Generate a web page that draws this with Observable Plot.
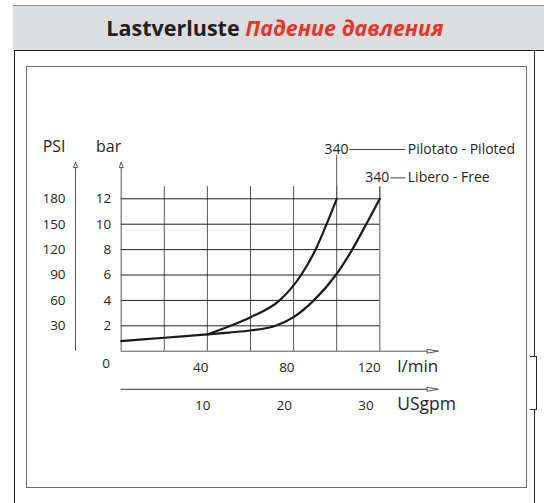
<!DOCTYPE html>
<html>
<head>
<meta charset="utf-8">
<script src="https://cdn.jsdelivr.net/npm/d3@7"></script>
<script src="https://cdn.jsdelivr.net/npm/@observablehq/plot@0.6"></script>
<style>
  html, body { margin: 0; padding: 0; background: #fff; }
  #page { position: relative; width: 544px; height: 503px; overflow: hidden; font-family: "Open Sans", sans-serif; }
  #band { position: absolute; left: 13px; top: 5px; width: 531px; height: 45px; background: #dcdddf; border-top: 1px solid #8e8e8e; }
  #title { position: absolute; left: 0; top: 13px; width: 550px; text-align: center; font-size: 21.5px; font-weight: 700; line-height: normal; color: #231f20; white-space: nowrap; }
  #title .ru { color: #e3352b; font-style: italic; }
  #chart { position: absolute; left: 0; top: 51px; width: 544px; height: 452px; }
  #outer { position: absolute; left: 14px; top: 50px; width: 530px; height: 470px; border-left: 1px solid #1e1e1e; border-top: 1px solid #1e1e1e; pointer-events: none; }
  #inner { position: absolute; left: 26px; top: 66px; width: 499px; height: 420px; border: 1px solid #6d6d6d; pointer-events: none; }
  .seg { position: absolute; background: #2a2a2a; pointer-events: none; }
</style>
</head>
<body>
<div id="page">
  <div id="band"></div>
  <div id="title">Lastverluste <span class="ru">Падение давления</span></div>
  <div id="chart"></div>
  <div id="outer"></div>
  <div id="inner"></div>
  <div class="seg" style="left:534px;top:50px;width:1px;height:306px"></div>
  <div class="seg" style="left:530px;top:356px;width:7px;height:1px"></div>
  <div class="seg" style="left:536px;top:356px;width:1px;height:54px"></div>
  <div class="seg" style="left:530px;top:409px;width:7px;height:1px"></div>
  <div class="seg" style="left:534px;top:409px;width:1px;height:94px"></div>
</div>
<script>
// ---------- data ----------
const flowTicks = [40, 80, 120];            // l/min labels
const flowGrid = [20, 40, 60, 80, 100, 120]; // l/min grid
const barTicks = [2, 4, 6, 8, 10, 12];       // bar
const psiTicks = [30, 60, 90, 120, 150, 180];
const usgpmTicks = [10, 20, 30];
const LPM_PER_USGPM = 3.785;

// Pilotato - Piloted (l/min, bar)
const pilotedFlow = [0, 20, 40, 50.7, 60, 73.5, 83.5, 90.2, 95.3, 100];
const pilotedBar  = [0.8, 1.06, 1.32, 2.0, 2.68, 4.0, 6.0, 8.0, 10.0, 12.0];

// Libero - Free (l/min, bar)
const freeFlow = [0, 20, 40, 50, 60, 71.6, 80, 89.4, 99.6, 107.2, 113.7, 120];
const freeBar  = [0.8, 1.06, 1.32, 1.47, 1.63, 2.0, 2.68, 4.0, 6.0, 8.0, 10.0, 12.0];

const seriesNames = ["Pilotato - Piloted", "Libero - Free"];
const seriesMaxFlow = [100, 120];
const seriesMaxPressure = ["340", "340"];
const branchFlow = 40; // both curves coincide below this flow

// ---------- layout (in scale units) ----------
const L = {
  gridTop: 12.95,
  calloutTop: [15.41, 12.91],
  calloutY: [15.88, 13.65],
  calloutLineStart: [105.9, 124.9],
  calloutLineEnd: 131.9,
  calloutTextX: 133,
  axisTop: 14.88,
  xAxisEnd: 147.2,
  psiAxisX: -21.2,
  psiLabelX: -25.8,
  usgpmAxisY: -3
};

const piloted = pilotedFlow.map((x, i) => ({x, y: pilotedBar[i]}));
const free = freeFlow.map((x, i) => ({x, y: freeBar[i]}));
const series = seriesNames.map((name, i) => ({
  name, flow: seriesMaxFlow[i], p: seriesMaxPressure[i],
  top: L.calloutTop[i], ly: L.calloutY[i], lx: L.calloutLineStart[i]
}));

const ink = "#231f20";
const gray = "#555";
const font = "Open Sans";

const arrowShape = {
  draw(context, l) {
    context.moveTo(-1.9, 0);
    context.lineTo(0, -l);
    context.lineTo(1.9, 0);
    context.closePath();
  }
};

const chart = Plot.plot({
  width: 544,
  height: 452,
  marginTop: 0, marginRight: 0, marginBottom: 0, marginLeft: 0,
  style: {background: "transparent", fontFamily: font, color: ink, overflow: "visible"},
  x: {domain: [0, 120], range: [120.7, 379.3], axis: null},
  y: {domain: [0, 12], range: [299.7, 147.3], axis: null},
  marks: [
    // grid
    Plot.ruleX(flowGrid, {x: d => d, y1: 0, y2: L.gridTop, stroke: gray, strokeWidth: 1}),
    Plot.ruleX(series, {x: "flow", y1: 12, y2: "top", stroke: gray, strokeWidth: 1}),
    Plot.ruleY(barTicks, {y: d => d, x1: 0, x2: 120, stroke: "#1e1e1e", strokeWidth: 1}),
    // axes
    Plot.ruleY([0], {x1: 0, x2: L.xAxisEnd, stroke: gray, strokeWidth: 1}),
    Plot.ruleY([L.usgpmAxisY], {x1: 0, x2: L.xAxisEnd, stroke: "#333", strokeWidth: 1}),
    Plot.ruleX([0], {y1: 0, y2: L.axisTop, stroke: gray, strokeWidth: 1}),
    Plot.ruleX([L.psiAxisX], {y1: 0, y2: L.axisTop, stroke: gray, strokeWidth: 1}),
    Plot.vector([0, L.psiAxisX], {x: d => d, y: L.axisTop, length: 5, rotate: 0, anchor: "end", shape: arrowShape, fill: "white", stroke: gray, strokeWidth: 1}),
    Plot.vector([0, L.usgpmAxisY], {x: L.xAxisEnd, y: d => d, length: 11, rotate: 90, anchor: "end", shape: arrowShape, fill: "white", stroke: gray, strokeWidth: 1}),
    // curves (piloted branch drawn from where it leaves the common curve)
    Plot.line(free, {x: "x", y: "y", curve: "monotone-x", stroke: "#1a1a1a", strokeWidth: 2.2}),
    Plot.line(piloted.filter(d => d.x >= branchFlow), {x: "x", y: "y", curve: "monotone-x", stroke: "#1a1a1a", strokeWidth: 2.2}),
    // callouts
    Plot.link(series, {x1: "lx", x2: L.calloutLineEnd, y1: "ly", y2: "ly", stroke: "#444", strokeWidth: 1}),
    Plot.text(series, {x: d => d.lx, y: "ly", text: "p", textAnchor: "end", dx: -1, fontSize: 14, fill: ink}),
    Plot.text(series, {x: L.calloutTextX, y: "ly", text: "name", textAnchor: "start", fontSize: 14, fill: ink}),
    // tick labels
    Plot.text(barTicks, {x: 0, y: d => d, text: d => String(d), textAnchor: "end", dx: -10, fontSize: 13.5, fill: ink}),
    Plot.text(barTicks, {x: L.psiLabelX, y: d => d, text: (d, i) => String(psiTicks[i]), textAnchor: "end", fontSize: 13.5, fill: ink}),
    Plot.text(["0"], {x: 0, y: 0, text: d => d, dx: -15, dy: 12.5, fontSize: 13.5, fill: ink}),
    Plot.text(flowTicks, {x: d => d, y: 0, text: d => String(d), textAnchor: "end", dx: 1, dy: 16.5, fontSize: 13.5, fill: ink}),
    Plot.text(usgpmTicks, {x: d => d * LPM_PER_USGPM, y: L.usgpmAxisY, text: d => String(d), dy: 16, fontSize: 13.5, fill: ink}),
    // axis titles
    Plot.text(["l/min"], {x: 128.1, y: 0, text: d => d, textAnchor: "start", dy: 15.5, fontSize: 17, fill: ink}),
    Plot.text(["USgpm"], {x: 128.1, y: L.usgpmAxisY, text: d => d, textAnchor: "start", dy: 15.5, fontSize: 17.5, fill: ink}),
    Plot.text(["bar"], {x: 0, y: 16.06, text: d => d, textAnchor: "end", dx: 0, fontSize: 16, fill: ink}),
    Plot.text(["PSI"], {x: L.psiLabelX, y: 16.06, text: d => d, textAnchor: "end", fontSize: 16, fill: ink})
  ]
});
document.getElementById("chart").appendChild(chart);
</script>
</body>
</html>
